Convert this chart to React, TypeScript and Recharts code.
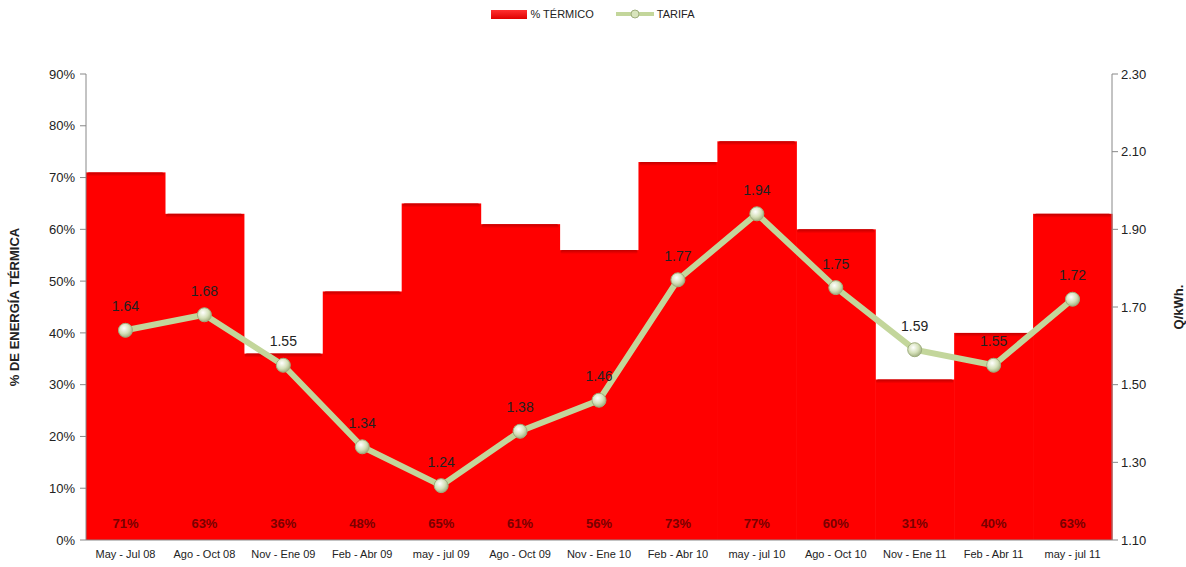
import React from 'react';
import { ComposedChart, Bar, Line, XAxis, YAxis, LabelList } from 'recharts';

const categories = ['May - Jul 08', 'Ago - Oct 08', 'Nov - Ene 09', 'Feb - Abr 09', 'may - jul 09', 'Ago - Oct 09', 'Nov - Ene 10', 'Feb - Abr 10', 'may - jul 10', 'Ago - Oct 10', 'Nov - Ene 11', 'Feb - Abr 11', 'may - jul 11'];
const termico = [0.71, 0.63, 0.36, 0.48, 0.65, 0.61, 0.56, 0.73, 0.77, 0.60, 0.31, 0.40, 0.63];
const tarifa = [1.64, 1.68, 1.55, 1.34, 1.24, 1.38, 1.46, 1.77, 1.94, 1.75, 1.59, 1.55, 1.72];
const leftTicks = [0, 0.1, 0.2, 0.3, 0.4, 0.5, 0.6, 0.7, 0.8, 0.9];
const rightTicks = [1.1, 1.3, 1.5, 1.7, 1.9, 2.1, 2.3];
const boundaryTicks = [0, 1, 2, 3, 4, 5, 6, 7, 8, 9, 10, 11, 12, 13];

const data = categories.map((c, i) => ({ cat: c, termico: termico[i], tarifa: tarifa[i] }));

const FONT = '"Liberation Sans", Arial, sans-serif';

const BarShape = (props: any) => {
  const { x, y, width, height } = props;
  if (!height || height <= 0) return null;
  return (
    <g>
      <rect x={x} y={y} width={width + 0.5} height={height} fill="#ff0000" />
      <rect x={x + 1} y={y} width={width - 2} height={4} fill="url(#barTop)" rx={2} />
    </g>
  );
};

const Dot = (props: any) => {
  const { cx, cy } = props;
  if (cx == null || cy == null) return null;
  return (
    <g>
      <circle cx={cx} cy={cy} r={7} fill="url(#dotGrad)" stroke="#9fae7e" strokeWidth={1} />
    </g>
  );
};

const Legend = () => (
  <div style={{ position: 'absolute', left: 0, top: 8, width: 1186, display: 'flex', justifyContent: 'center', fontFamily: FONT, fontSize: 11, color: '#222', alignItems: 'center' }}>
    <div style={{ display: 'flex', alignItems: 'center', marginRight: 22 }}>
      <div style={{ width: 36, height: 9, background: 'linear-gradient(#ff3030,#e00000)', marginRight: 3 }} />
      <span>% TÉRMICO</span>
    </div>
    <div style={{ display: 'flex', alignItems: 'center' }}>
      <svg width={38} height={12} style={{ marginRight: 3 }}>
        <line x1={0} y1={6} x2={38} y2={6} stroke="#c3d69b" strokeWidth={4} />
        <circle cx={19} cy={6} r={4} fill="#d8e4bc" stroke="#9fae7e" />
      </svg>
      <span>TARIFA</span>
    </div>
  </div>
);

export default function App() {
  return (
    <div style={{ position: 'absolute', left: 0, top: 0, width: 1186, height: 567, background: '#fff' }}>
      <Legend />
      <ComposedChart width={1186} height={567} data={data} margin={{ top: 74, right: 0, bottom: 0, left: 0 }} barCategoryGap={0} barGap={0}>
        <defs>
          <linearGradient id="barTop" x1="0" y1="0" x2="0" y2="1">
            <stop offset="0%" stopColor="#c00000" />
            <stop offset="100%" stopColor="#ff0000" />
          </linearGradient>
          <radialGradient id="dotGrad" cx="40%" cy="35%" r="65%">
            <stop offset="0%" stopColor="#ffffff" />
            <stop offset="60%" stopColor="#d4e0b8" />
            <stop offset="100%" stopColor="#a3b184" />
          </radialGradient>
        </defs>
        <XAxis xAxisId="cat" dataKey="cat" height={27} interval={0} tickLine={false} axisLine={{ stroke: '#888' }} tick={{ fontSize: 11, fill: '#222', fontFamily: FONT }} tickMargin={4} />
        <XAxis xAxisId="b" type="number" domain={[0, 13]} ticks={boundaryTicks} hide={false} height={0} tick={false} axisLine={false} tickLine={{ stroke: '#888' }} tickSize={5} allowDataOverflow />
        <YAxis yAxisId="l" width={86} domain={[0, 0.9]} ticks={leftTicks} tickFormatter={(v: number) => `${Math.round(v * 100)}%`} axisLine={{ stroke: '#888' }} tickLine={{ stroke: '#888' }} tickSize={6} tickMargin={5} tick={{ fontSize: 13, fill: '#222', fontFamily: FONT }}
          label={{ value: '% DE ENERGÍA TÉRMICA', angle: -90, position: 'insideLeft', offset: 14, style: { fontSize: 13, fontWeight: 'bold', fill: '#222', fontFamily: FONT, textAnchor: 'middle' } }} />
        <YAxis yAxisId="r" orientation="right" width={74} domain={[1.1, 2.3]} ticks={rightTicks} tickFormatter={(v: number) => v.toFixed(2)} axisLine={{ stroke: '#888' }} tickLine={{ stroke: '#888' }} tickSize={6} tickMargin={3} tick={{ fontSize: 13, fill: '#222', fontFamily: FONT }}
          label={{ value: 'Q/kWh.', angle: -90, position: 'insideRight', offset: 8, style: { fontSize: 13, fontWeight: 'bold', fill: '#222', fontFamily: FONT, textAnchor: 'middle' } }} />
        <Bar xAxisId="cat" yAxisId="l" dataKey="termico" shape={<BarShape />} isAnimationActive={false}>
          <LabelList dataKey="termico" position="insideBottom" offset={12} formatter={(v: number) => `${Math.round(v * 100)}%`} style={{ fontSize: 13, fill: '#7a0000', fontFamily: FONT, fontWeight: 600 }} />
        </Bar>
        <Line xAxisId="cat" yAxisId="r" dataKey="tarifa" stroke="#c3d69b" strokeWidth={6} dot={<Dot />} activeDot={false} isAnimationActive={false}>
          <LabelList dataKey="tarifa" position="top" offset={19} formatter={(v: number) => v.toFixed(2)} style={{ fontSize: 14, fill: '#222', fontFamily: FONT }} />
        </Line>
      </ComposedChart>
    </div>
  );
}
